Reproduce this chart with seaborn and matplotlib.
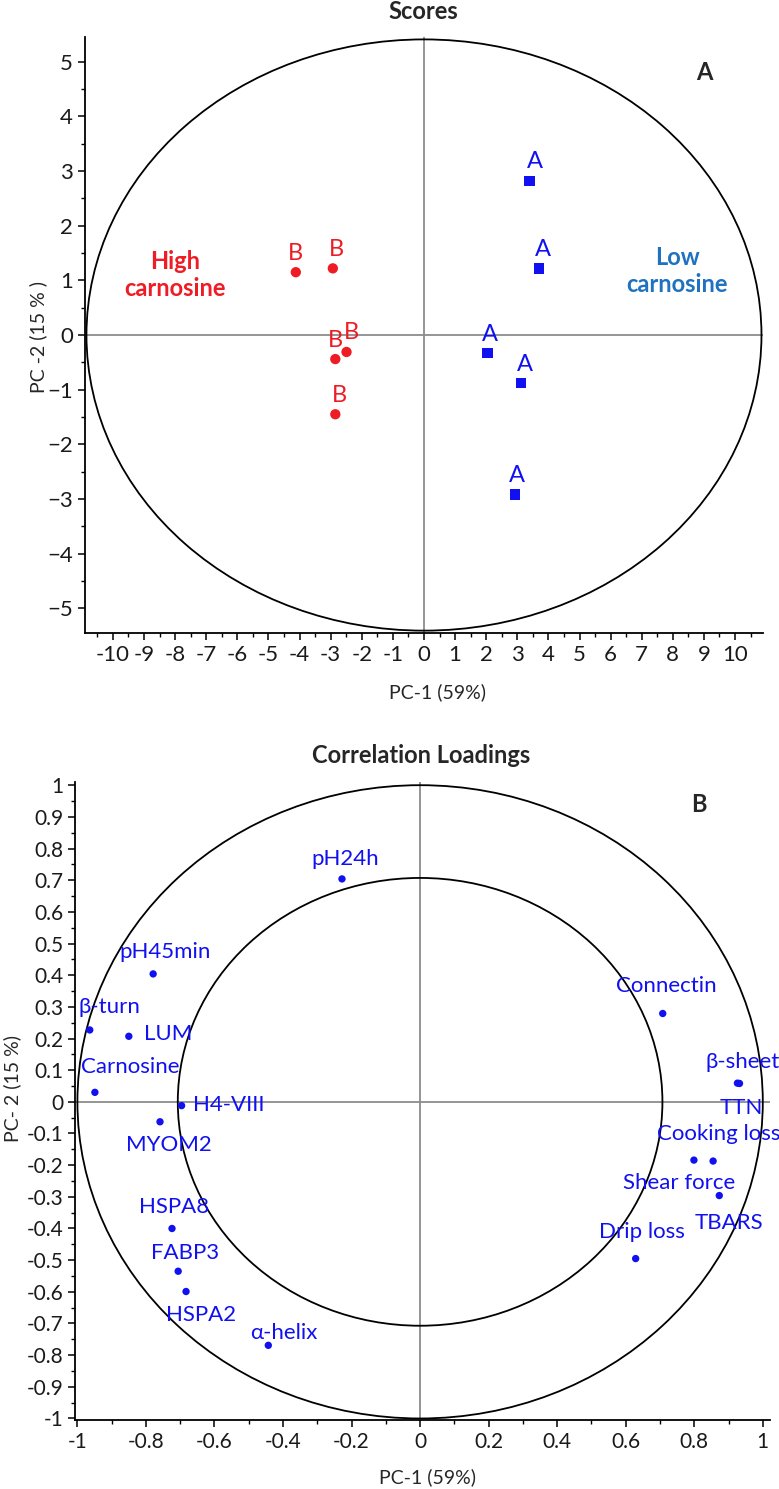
import numpy as np
import pandas as pd
import matplotlib
matplotlib.use("Agg")
import matplotlib.pyplot as plt
import seaborn as sns
from matplotlib.patches import Ellipse, Circle
from matplotlib.ticker import MultipleLocator, FuncFormatter

# === DATA ===
# scores (PC-1, PC-2)
score_group = ["B", "B", "B", "B", "B", "A", "A", "A", "A", "A"]
score_pc1 = [-4.12, -2.93, -2.49, -2.85, -2.85, 3.39, 3.70, 2.04, 3.13, 2.93]
score_pc2 = [1.15, 1.22, -0.31, -0.44, -1.45, 2.82, 1.22, -0.33, -0.88, -2.92]

# correlation loadings
load_names = ["pH24h", "pH45min", "\u03b2-turn", "LUM", "Carnosine", "H4-VIII",
              "MYOM2", "HSPA8", "FABP3", "HSPA2", "\u03b1-helix", "Connectin",
              "\u03b2-sheet", "TTN", "Cooking loss", "Shear force", "TBARS", "Drip loss"]
load_pc1 = [-0.228, -0.779, -0.964, -0.850, -0.949, -0.696,
            -0.759, -0.724, -0.706, -0.683, -0.443, 0.708,
            0.926, 0.932, 0.855, 0.799, 0.873, 0.629]
load_pc2 = [0.704, 0.404, 0.227, 0.207, 0.030, -0.012,
            -0.063, -0.400, -0.535, -0.599, -0.769, 0.279,
            0.059, 0.058, -0.187, -0.184, -0.296, -0.495]

# label offsets in pixels (dx, dy) and alignment - styling only
score_off = [(0, 19), (4, 19), (5, 19), (0, 19), (4, 19),
             (6, 19), (4, 19), (2, 19), (4, 19), (2, 19)]
load_off = [(3, 20), (12, 22), (20, 23), (15, 2), (35, 25), (11, 1),
            (9, -23), (2, 21), (7, 18), (15, -23), (16, 12), (4, 27),
            (-32, 21), (2, -25), (-56, 27), (-15, -23), (10, -27), (6, 27)]
load_ha = ["center", "center", "center", "left", "center", "left",
           "center", "center", "center", "center", "center", "center",
           "left", "center", "left", "center", "center", "center"]

scores_df = pd.DataFrame({"PC1": score_pc1, "PC2": score_pc2, "group": score_group})
load_df = pd.DataFrame({"PC1": load_pc1, "PC2": load_pc2, "name": load_names})

# === STYLE ===
sns.set_style("ticks")
plt.rcParams["font.family"] = ["Lato", "DejaVu Sans"]

RED = "#ee1c24"
BLUE = "#1010f0"
LBLUE = "#1f72c0"
GRAY = "#8c8c8c"

fig = plt.figure(figsize=(7.79, 14.89), dpi=100)
ax1 = fig.add_axes([0.109, 0.575, 0.8705, 0.400])
ax2 = fig.add_axes([0.0963, 0.0463, 0.8917, 0.4285])


def style_axis(ax, lsize):
    for s in ["top", "right"]:
        ax.spines[s].set_visible(False)
    for s in ["left", "bottom"]:
        ax.spines[s].set_color("black")
        ax.spines[s].set_linewidth(1.3)
    ax.tick_params(which="major", length=5, width=1.1, labelsize=lsize, color="black", labelcolor="#1a1a1a")
    ax.tick_params(which="minor", length=3, width=1.0, color="black")
    ax.axhline(0, color=GRAY, lw=1.3, zorder=1)
    ax.axvline(0, color=GRAY, lw=1.3, zorder=1)


def fmt(v, pos):
    s = "%g" % round(v, 2)
    return "0" if s in ("-0", "0") else s


# === TOP: SCORES ===
style_axis(ax1, 16)
ax1.add_patch(Ellipse((0, 0), 2 * 10.85, 2 * 5.41, fill=False, ec="black", lw=1.3, zorder=2))
sns.scatterplot(data=scores_df, x="PC1", y="PC2", hue="group", style="group",
                markers={"B": "o", "A": "s"}, palette={"B": RED, "A": BLUE},
                s=55, edgecolor="none", legend=False, ax=ax1, zorder=3)
for i in range(len(score_group)):
    c = RED if score_group[i] == "B" else BLUE
    ax1.annotate(score_group[i], (score_pc1[i], score_pc2[i]), xytext=score_off[i],
                 textcoords="offset pixels", ha="center", va="center",
                 fontsize=17, color=c)
ax1.text(-8.0, 1.1, "High\ncarnosine", color=RED, fontsize=17, fontweight="bold",
         ha="center", va="center", linespacing=1.25)
ax1.text(8.15, 1.17, "Low\ncarnosine", color=LBLUE, fontsize=17, fontweight="bold",
         ha="center", va="center", linespacing=1.25)
ax1.text(9.0, 4.8, "A", fontsize=17, fontweight="bold", ha="center", va="center")
ax1.set_xlim(-10.9, 10.9)
ax1.set_ylim(-5.45, 5.45)
ax1.set_xticks(np.arange(-10, 11, 1))
ax1.set_yticks(np.arange(-5, 6, 1))
ax1.xaxis.set_minor_locator(MultipleLocator(0.5))
ax1.yaxis.set_minor_locator(MultipleLocator(0.5))
ax1.xaxis.set_major_formatter(FuncFormatter(fmt))
ax1.set_xlabel("")
ax1.set_ylabel("")

# === BOTTOM: CORRELATION LOADINGS ===
style_axis(ax2, 15)
ax2.add_patch(Circle((0, 0), 1.0, fill=False, ec="black", lw=1.3, zorder=2))
ax2.add_patch(Circle((0, 0), np.sqrt(0.5), fill=False, ec="black", lw=1.3, zorder=2))
sns.scatterplot(data=load_df, x="PC1", y="PC2", color=BLUE, s=28, edgecolor="none",
                legend=False, ax=ax2, zorder=3)
for i in range(len(load_names)):
    ax2.annotate(load_names[i], (load_pc1[i], load_pc2[i]), xytext=load_off[i],
                 textcoords="offset pixels", ha=load_ha[i], va="center",
                 fontsize=16, color=BLUE, annotation_clip=False)
ax2.text(0.814, 0.94, "B", fontsize=17, fontweight="bold", ha="center", va="center")
ax2.set_xlim(-1.007, 1.02)
ax2.set_ylim(-1.005, 1.01)
ax2.set_xticks(np.arange(-1, 1.01, 0.2))
ax2.set_yticks(np.arange(-1, 1.01, 0.1))
ax2.xaxis.set_minor_locator(MultipleLocator(0.1))
ax2.yaxis.set_minor_locator(MultipleLocator(0.05))
ax2.xaxis.set_major_formatter(FuncFormatter(fmt))
ax2.yaxis.set_major_formatter(FuncFormatter(fmt))
ax2.set_xlabel("")
ax2.set_ylabel("")

# titles and axis labels
fig.text(0.544, 0.992, "Scores", fontsize=17, fontweight="bold", ha="center", va="center")
fig.text(0.541, 0.4923, "Correlation Loadings", fontsize=17, fontweight="bold", ha="center", va="center")
fig.text(0.561, 0.535, "PC-1 (59%)", fontsize=14, ha="center", va="center")
fig.text(0.549, 0.008, "PC-1 (59%)", fontsize=14, ha="center", va="center")
fig.text(0.049, 0.774, "PC -2 (15 % )", fontsize=14, ha="center", va="center", rotation=90)
fig.text(0.016, 0.269, "PC- 2 (15 %)", fontsize=14, ha="center", va="center", rotation=90)

fig.savefig("out.png", dpi=100)
